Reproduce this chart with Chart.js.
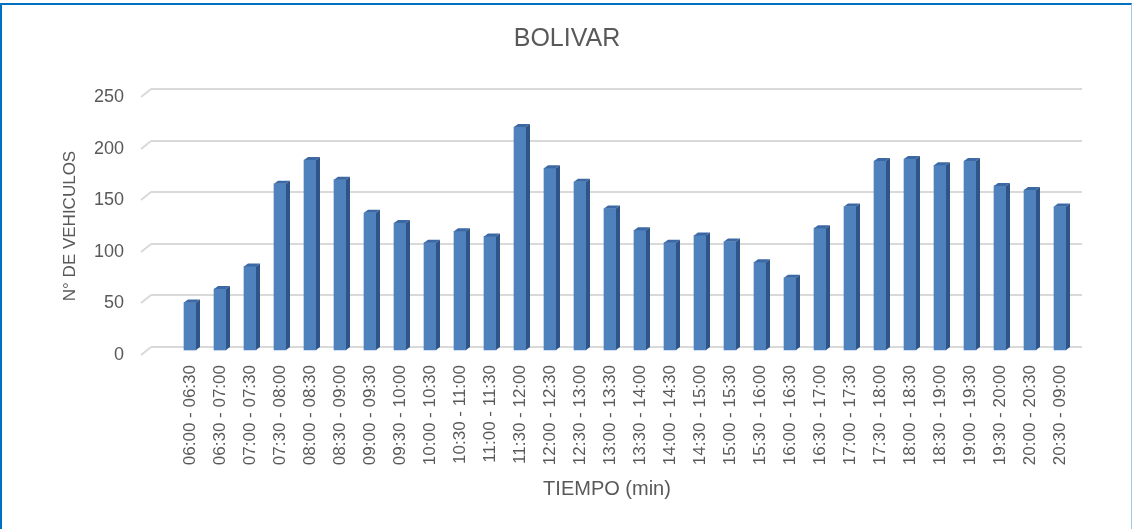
<!DOCTYPE html>
<html>
<head>
<meta charset="utf-8">
<script src="https://cdn.jsdelivr.net/npm/chart.js@4.4.0/dist/chart.umd.min.js"></script>
<style>
  html, body { margin: 0; padding: 0; background: #fff; overflow: hidden; }
  #marco {
    position: absolute; left: 0; top: 3px; width: 1129px; height: 540px;
    border-left: 2px solid #0070C0; border-top: 2px solid #0070C0; border-right: 1px solid #A9C8E8;
  }
  #caja { position: absolute; left: 0; top: 0; width: 1134px; height: 529px; }
</style>
</head>
<body>
<div id="marco"></div>
<div id="caja"><canvas id="bar-chart"></canvas></div>
<script>
const horarios = [
  "06:00 - 06:30", "06:30 - 07:00", "07:00 - 07:30", "07:30 - 08:00", "08:00 - 08:30",
  "08:30 - 09:00", "09:00 - 09:30", "09:30 - 10:00", "10:00 - 10:30", "10:30 - 11:00",
  "11:00 - 11:30", "11:30 - 12:00", "12:00 - 12:30", "12:30 - 13:00", "13:00 - 13:30",
  "13:30 - 14:00", "14:00 - 14:30", "14:30 - 15:00", "15:00 - 15:30", "15:30 - 16:00",
  "16:00 - 16:30", "16:30 - 17:00", "17:00 - 17:30", "17:30 - 18:00", "18:00 - 18:30",
  "18:30 - 19:00", "19:00 - 19:30", "19:30 - 20:00", "20:00 - 20:30", "20:30 - 09:00"
];
const vehiculos = [
  47, 60, 82, 162, 185, 166, 134, 124, 105, 116,
  111, 217, 177, 164, 138, 117, 105, 112, 106, 86,
  71, 119, 140, 184, 186, 180, 184, 160, 156, 140
];
const ticksY = [0, 50, 100, 150, 200, 250];

const titulo = "BOLIVAR",
  tituloY = "N° DE VEHICULOS",
  tituloX = "TIEMPO (min)";

const gris = "#595959",
  fuente = '"Liberation Sans", Arial, sans-serif';
Chart.defaults.font.family = fuente;

// caras laterales y superiores de las barras, estilo columna 3D de Excel
const efecto3D = {
  id: "efecto3D",
  beforeDatasetsDraw(chart) {
    const { ctx, chartArea, scales } = chart;
    ctx.save();
    ctx.strokeStyle = "#D9D9D9";
    ctx.lineWidth = 2;
    scales.y.ticks.forEach((t) => {
      const y = Math.round(scales.y.getPixelForValue(t.value));
      ctx.beginPath();
      ctx.moveTo(chartArea.left, y);
      ctx.lineTo(chartArea.left - 10, y + 8);
      ctx.stroke();
    });
    ctx.restore();
    ctx.save();
    ctx.translate(0, 4);
  },
  afterDatasetsDraw(chart) {
    const ctx = chart.ctx;
    chart.getDatasetMeta(0).data.forEach((bar) => {
      const l = bar.x - bar.width / 2,
        r = bar.x + bar.width / 2;
      ctx.fillStyle = "#3C69A4";
      ctx.beginPath();
      ctx.moveTo(l, bar.y);
      ctx.lineTo(l + 4, bar.y - 3);
      ctx.lineTo(r + 4, bar.y - 3);
      ctx.lineTo(r, bar.y);
      ctx.closePath();
      ctx.fill();
      ctx.fillStyle = "#2F5487";
      ctx.beginPath();
      ctx.moveTo(r, bar.y);
      ctx.lineTo(r + 4, bar.y - 3);
      ctx.lineTo(r + 4, bar.base - 3);
      ctx.lineTo(r, bar.base);
      ctx.closePath();
      ctx.fill();
    });
    ctx.restore();
  },
  afterDraw(chart) {
    const ctx = chart.ctx;
    ctx.save();
    ctx.fillStyle = gris;
    ctx.textAlign = "center";
    ctx.textBaseline = "middle";
    ctx.font = "25px " + fuente;
    ctx.fillText(titulo, 567, 39);
    ctx.font = "20px " + fuente;
    ctx.fillText(tituloX, 607, 489);
    ctx.translate(70, 226);
    ctx.rotate(-Math.PI / 2);
    ctx.font = "17px " + fuente;
    ctx.fillText(tituloY, 0, 0);
    ctx.restore();
  },
};

const config = {
  type: "bar",
  data: {
    datasets: [
      {
        label: titulo,
        data: vehiculos.map((v, i) => ({ x: i, y: v })),
        backgroundColor: "#4F81BD",
        barThickness: 12,
        clip: false,
      },
    ],
  },
  options: {
    responsive: true,
    maintainAspectRatio: false,
    animation: false,
    layout: { padding: { top: 89, left: 0, right: 52, bottom: 0 } },
    plugins: {
      legend: { display: false },
      tooltip: { enabled: false },
      title: { display: false },
    },
    scales: {
      x: {
        type: "linear",
        offset: false,
        min: -1.3,
        max: 29.733,
        grid: { display: false, drawTicks: false },
        border: { display: false },
        afterFit: (s) => { s.height = 182; },
        ticks: {
          stepSize: 1,
          autoSkip: false,
          includeBounds: false,
          maxRotation: 90,
          minRotation: 90,
          padding: 18,
          color: gris,
          font: { size: 17 },
          callback: (v) => (Number.isInteger(v) && horarios[v] !== undefined ? horarios[v] : ""),
        },
      },
      y: {
        min: ticksY[0],
        max: ticksY[ticksY.length - 1],
        grid: { color: "#D9D9D9", lineWidth: 2, drawTicks: false },
        border: { display: false },
        afterFit: (s) => { s.width = 151; },
        ticks: {
          stepSize: ticksY[1] - ticksY[0],
          padding: 27,
          labelOffset: 8,
          color: gris,
          font: { size: 18 },
        },
      },
    },
  },
  plugins: [efecto3D],
};

const myChart = new Chart(document.getElementById("bar-chart").getContext("2d"), config);
</script>
</body>
</html>
